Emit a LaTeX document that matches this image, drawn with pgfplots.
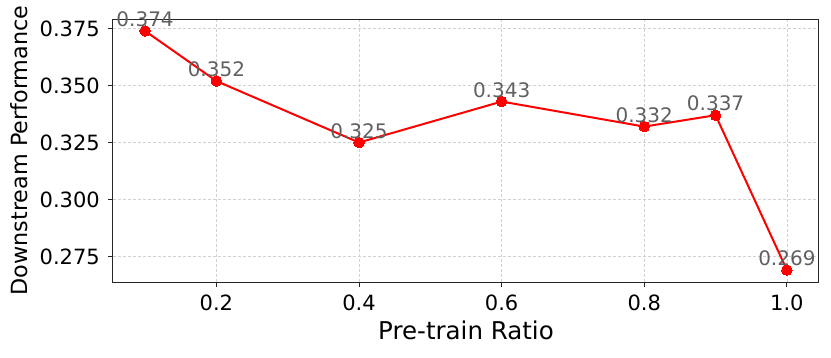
\documentclass[border=0pt]{standalone}
\usepackage{pgfplots}
\pgfplotsset{compat=1.18}
\usepackage{fontspec}
\setmainfont{DejaVu Sans}
\definecolor{anngray}{HTML}{606060}
\pgfplotstableread{
x y label
0.1 0.374 0.374
0.2 0.352 0.352
0.4 0.325 0.325
0.6 0.343 0.343
0.8 0.332 0.332
0.9 0.337 0.337
1.0 0.269 0.269
}\datatable
\begin{document}
\begin{tikzpicture}
\useasboundingbox (-113pt,-75pt) rectangle (718pt,282pt);
\begin{axis}[
  at={(0,0)}, anchor=south west,
  scale only axis, width=706pt, height=263pt,
  xmin=0.055, xmax=1.045, ymin=0.26375, ymax=0.37925,
  xtick={0.2,0.4,0.6,0.8,1.0}, xticklabels={0.2,0.4,0.6,0.8,1.0},
  ytick={0.275,0.3,0.325,0.35,0.375}, yticklabels={0.275,0.300,0.325,0.350,0.375},
  scaled y ticks=false, scaled x ticks=false,
  xtick pos=left, ytick pos=left,
  tick align=outside, major tick length=5pt,
  grid=major,
  major grid style={dash pattern=on 3pt off 2pt, color=black!18, line width=0.7pt},
  axis line style={line width=1pt, black!85},
  tick style={line width=1pt, black!85},
  ticklabel style={font=\fontsize{21}{24}\selectfont, inner sep=0pt},
  xticklabel style={anchor=north, yshift=-8pt},
  yticklabel style={anchor=east, xshift=-8pt},
  xlabel={Pre-train Ratio},
  ylabel={Downstream Performance},
  xlabel style={font=\fontsize{24.5}{28}\selectfont, at={(axis description cs:0.5,0)}, anchor=base, yshift=-57pt, inner sep=0pt},
  ylabel style={font=\fontsize{22.3}{26}\selectfont, at={(axis description cs:0,0.5)}, anchor=base, rotate=0, yshift=85pt, inner sep=0pt},
  clip=false,
]
\addplot[red, line width=2pt, mark=*, mark size=5.3pt, mark options={solid, fill=red, draw=red, line width=0pt},
  nodes near coords, point meta=explicit symbolic,
  nodes near coords style={anchor=base, yshift=4.5pt, inner sep=0pt, text=anngray, font=\fontsize{20}{24}\selectfont}]
  table[x=x, y=y, meta=label] {\datatable};
\end{axis}
\end{tikzpicture}
\end{document}
